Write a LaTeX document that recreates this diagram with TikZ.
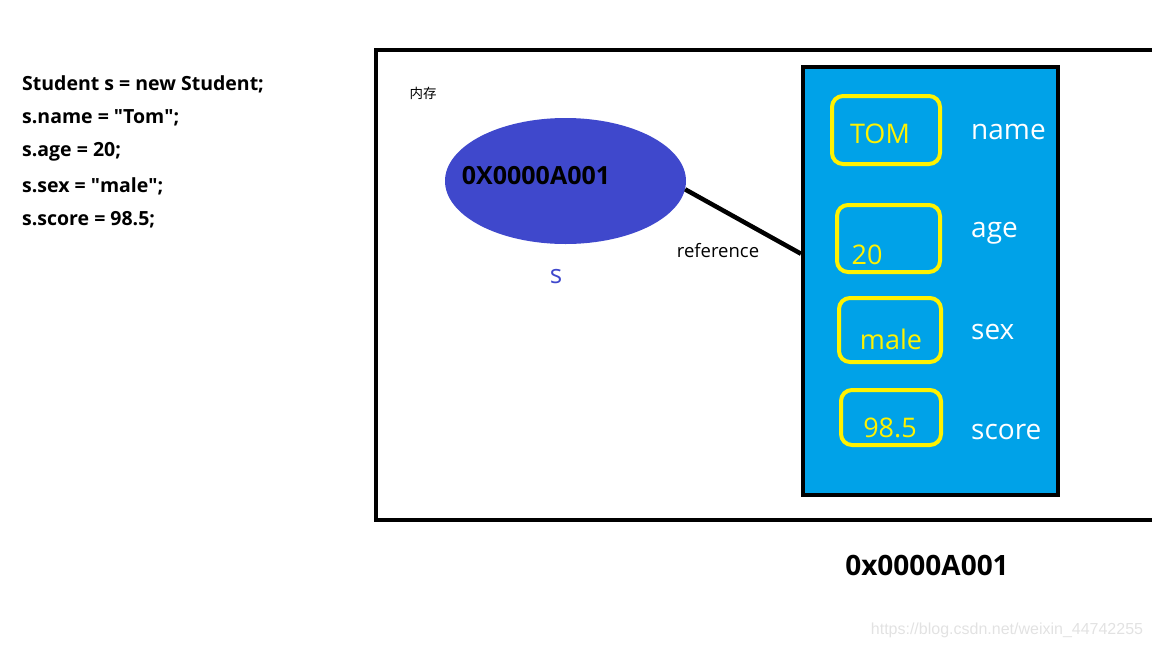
\documentclass[tikz,border=0pt]{standalone}
\usepackage{fontspec}
\setmainfont{Open Sans}
\newfontfamily\cjk{Noto Sans CJK SC}
\newfontfamily\wmfont{Liberation Sans}
\usetikzlibrary{shapes.geometric}
\usetikzlibrary{calc}
\definecolor{paintindigo}{RGB}{63,72,204}
\definecolor{paintblue}{RGB}{0,162,232}
\definecolor{paintyellow}{RGB}{255,242,0}
\definecolor{watermarkgrey}{RGB}{226,226,226}

\begin{document}
\begin{tikzpicture}[x=1pt, y=-1pt,
	codeline/.style={anchor=west, inner sep=0pt, font=\bfseries\fontsize{19.5}{22}\selectfont},
	slot/.style={draw=paintyellow, line width=4pt, rounded corners=11pt, inner sep=0pt},
	slotval/.style={text=paintyellow, inner sep=0pt, font=\fontsize{27}{30}\selectfont},
	field/.style={text=white, anchor=west, inner sep=0pt, font=\fontsize{28}{32}\selectfont}]
	\useasboundingbox (0,0) rectangle (1152,648);

	% the code on the left
	\node[codeline] (l1) at (22,84) {Student s = new Student;};
	\node[codeline] (l2) at (22,118) {s.name = \textquotedbl Tom\textquotedbl;};
	\node[codeline] (l3) at (22,152) {s.age = 20;};
	\node[codeline] (l4) at (22,186) {s.sex = \textquotedbl male\textquotedbl;};
	\node[codeline] (l5) at (22,220) {s.score = 98.5;};

	% memory frame, runs off to the right
	\draw[line width=4pt] (1154,50) -| (376,520) -- (1154,520);
	\node[inner sep=0pt, font=\cjk\fontsize{13.5}{15}\selectfont] (mem) at (423,93) {内存};

	% the variable s
	\node[ellipse, fill=paintindigo, minimum width=241, minimum height=126, inner sep=0pt] (addr) at (565.5,181) {};
	\node[inner sep=0pt, font=\bfseries\fontsize{25}{28}\selectfont] (addrtext) at (536,176) {0X0000A001};
	\node[inner sep=0pt, text=paintindigo, font=\fontsize{26}{28}\selectfont] (var) at (556,277) {s};

	% the object
	\node[draw=black, line width=4pt, fill=paintblue, minimum width=255, minimum height=428, inner sep=0pt] (obj) at (930.5,281) {};

	% reference
	\draw[line width=4.5pt] (addr.-4) -- ($(obj.north west)!0.437!(obj.south west)$);
	\node[inner sep=0pt, font=\fontsize{18.5}{21}\selectfont] (ref) at (718,251) {reference};

	% fields
	\node[slot, minimum width=108, minimum height=68] (sname) at (886,130) {};
		\node[slotval] (vname) at (880,134) {TOM};
		\node[field] (fname) at (971,132) {name};
	\node[slot, minimum width=103, minimum height=67] (sage) at (888.5,238.5) {};
		\node[slotval] (vage) at (867,255) {20};
		\node[field] (fage) at (971,233) {age};
	\node[slot, minimum width=102, minimum height=64] (ssex) at (890,330) {};
		\node[slotval] (vsex) at (891,339) {male};
		\node[field] (fsex) at (971,332) {sex};
	\node[slot, minimum width=100, minimum height=55] (sscore) at (891,417.5) {};
		\node[slotval] (vscore) at (890,428) {98.5};
		\node[field] (fscore) at (971,432) {score};

	% address of the object
	\node[inner sep=0pt, font=\bfseries\fontsize{28}{32}\selectfont] (objaddr) at (927,565) {0x0000A001};

	\node[inner sep=0pt, text=watermarkgrey, font=\wmfont\fontsize{16}{18}\selectfont] (wm) at (1007,630) {https://blog.csdn.net/weixin\_44742255};
\end{tikzpicture}
\end{document}
